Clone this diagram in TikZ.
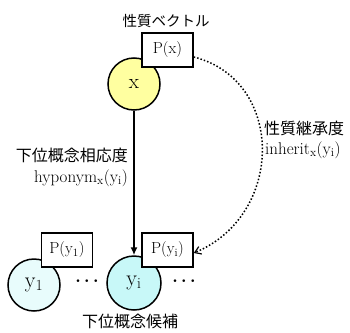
\documentclass[tikz,border=0pt]{standalone}
\usepackage{fontspec}
\newfontfamily\cjk{Noto Sans CJK JP}
\usetikzlibrary{arrows.meta}
\definecolor{xfill}{RGB}{255,255,160}
\definecolor{yifill}{RGB}{200,248,248}
\definecolor{yonefill}{RGB}{232,252,252}
\tikzset{
  ball/.style={circle, draw, line width=1.5pt, minimum size=52pt, inner sep=0pt},
  pbox/.style={rectangle, draw, line width=1.5pt, fill=white, minimum width=51pt, minimum height=34pt, inner sep=0pt, font=\fontsize{16}{18}\selectfont},
  jlab/.style={font=\cjk\fontsize{16}{18}\selectfont, inner sep=0pt},
  llab/.style={font=\fontsize{17}{19}\selectfont, inner sep=0pt},
  dotsnode/.style={font=\fontsize{16}{18}\selectfont\boldmath, inner sep=0pt},
}
\begin{document}
\begin{tikzpicture}[x=1pt,y=-1pt]
\useasboundingbox (0,0) rectangle (350,332);
% circles
\node[ball, fill=xfill, font=\fontsize{21}{23}\selectfont] (x) at (134,84) {x};
\node[ball, fill=yifill, minimum size=54pt, font=\fontsize{22}{24}\selectfont] (yi) at (134,283) {y\textsubscript{i}};
\node[ball, fill=yonefill, font=\fontsize{22}{24}\selectfont] (y1) at (34,285) {y\textsubscript{1}};
% boxes
\node[pbox] (Px) at (167.5,50) {P(x)};
\node[pbox] (Pyi) at (167.5,250) {P(y\textsubscript{i})};
\node[pbox] (Py1) at (67,250) {P(y\textsubscript{1})};
% dots
\node[dotsnode] (d1) at (87,281) {$\cdots$};
\node[dotsnode] (d2) at (184,281) {$\cdots$};
% labels
\node[jlab, font=\cjk\fontsize{14.5}{16}\selectfont] (tv) at (166,21) {性質ベクトル};
\node[jlab, anchor=east] (hl1) at (128,155) {下位概念相応度};
\node[llab, anchor=east] (hl2) at (128,178) {hyponym\textsubscript{x}(y\textsubscript{i})};
\node[jlab, anchor=west] (il1) at (264,128) {性質継承度};
\node[llab, anchor=west] (il2) at (265,150) {inherit\textsubscript{x}(y\textsubscript{i})};
\node[jlab] (cand) at (130,321) {下位概念候補};
% connectors
\draw[line width=1.5pt, -{Latex[length=8pt,width=7pt]}] (x.south) -- (yi.north);
\draw[line width=1.5pt, dotted, -{Straight Barb[length=6pt,width=8pt,line width=1.2pt]}]
  ([yshift=-7pt]Px.east) .. controls (285,80) and (285,215) .. ([yshift=-3pt]Pyi.east);
\end{tikzpicture}
\end{document}
